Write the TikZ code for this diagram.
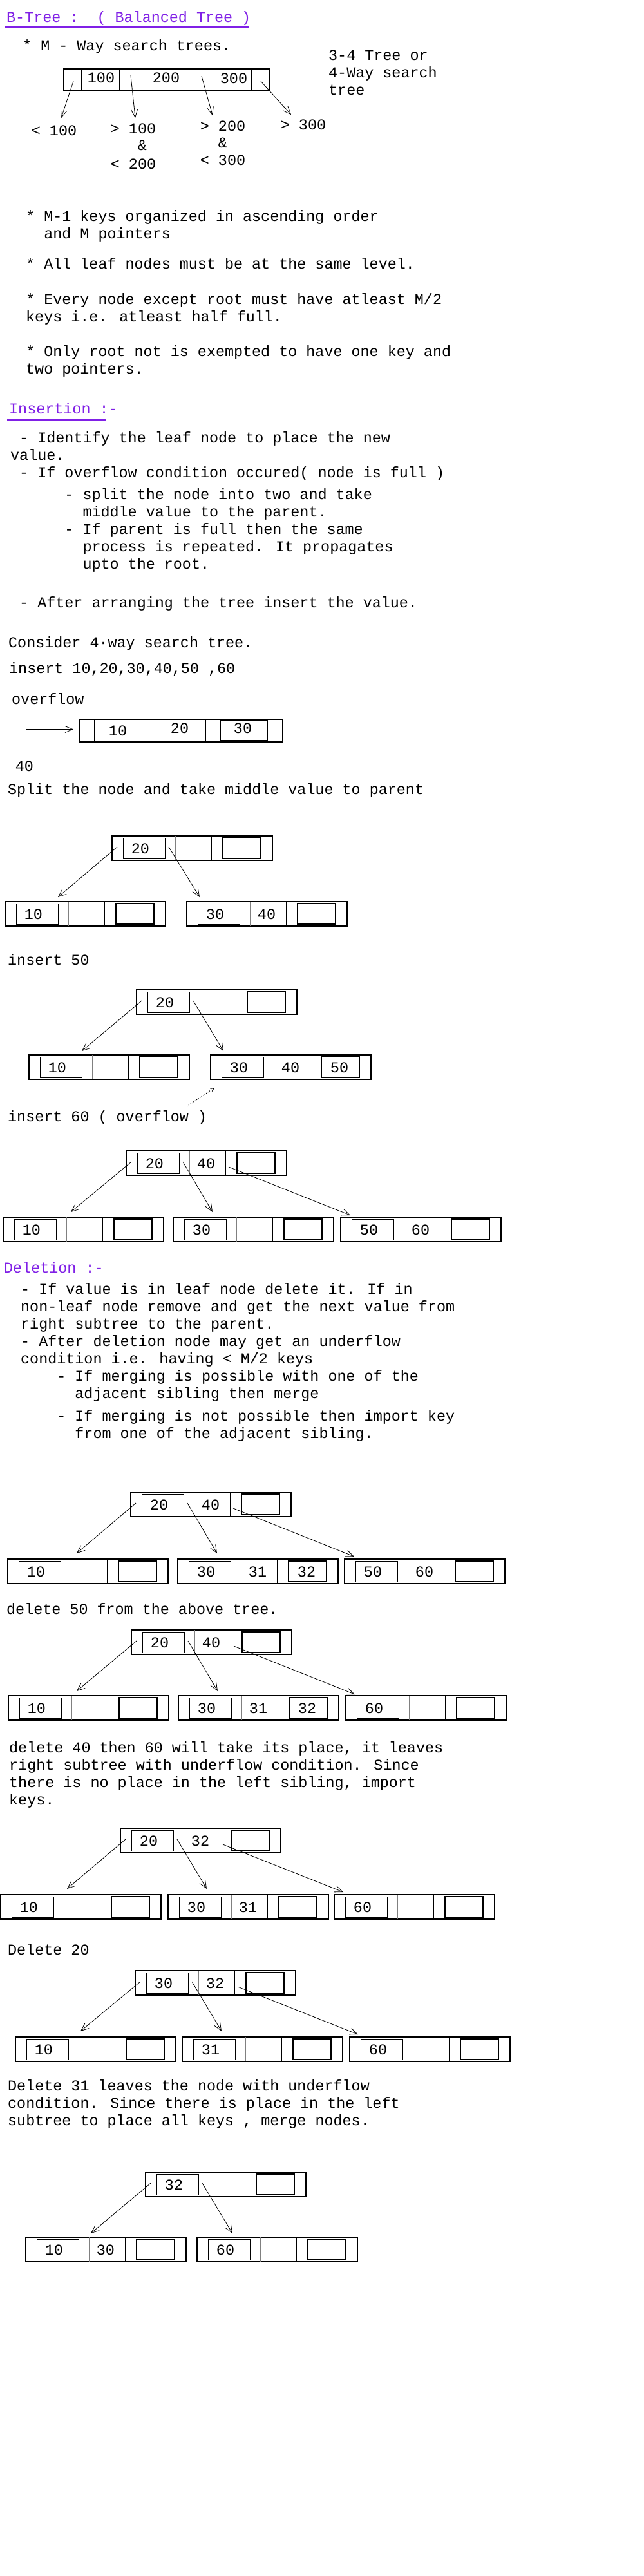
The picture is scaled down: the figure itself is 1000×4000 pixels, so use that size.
\documentclass[tikz,border=0pt]{standalone}
\usepackage{fontspec}
\setmainfont{Liberation Mono}
\usetikzlibrary{arrows.meta}
\definecolor{headcol}{RGB}{128,32,230}
\newlength\chw
\setlength\chw{14.04pt}
\newcommand{\ind}[1]{\hspace*{#1\chw}}
\tikzset{
  txt/.style={anchor=base west, inner sep=0pt, align=left,
    font=\fontsize{23.4}{27}\selectfont},
  head/.style={txt, text=headcol},
  bkey/.style={anchor=base, inner sep=0pt, font=\fontsize{23.4}{27}\selectfont},
  bframe/.style={draw, line width=1.8pt, inner sep=0pt, outer sep=0pt,
    minimum width=249pt, minimum height=38pt, anchor=north west},
  bcell/.style={line width=1pt},
  bhair/.style={line width=0.5pt, gray},
  ptr/.style={line width=0.8pt, -{Straight Barb[length=12pt,width=10pt]}},
  uline/.style={headcol, line width=1.6pt},
}
% one b-tree node: name, top left corner, three keys
\newcommand{\bnode}[5]{
  \begin{scope}[shift={(#2)}]
    \node[bframe] (#1) at (0,0) {};
    \draw[bcell] (17,3) rectangle (82,35);
    \draw[bhair] (98,0) -- (98,38);
    \draw[bcell] (154,0) -- (154,38);
    \draw[bcell, line width=1.8pt] (172,3) rectangle (231,35);
    \node[bkey] at (44,27) {#3};
    \node[bkey] at (124,27) {#4};
    \node[bkey] at (200,27) {#5};
    \coordinate (#1-p0) at (8,17);
    \coordinate (#1-p1) at (88,17);
    \coordinate (#1-p2) at (159,25);
  \end{scope}
}
\begin{document}
\begin{tikzpicture}[x=1pt,y=-1pt]
\useasboundingbox (0,0) rectangle (1000,4000);

% title and the m-way tree (multi-line texts sit on their last line)
\node[head] (title) at (10,34) {B-Tree :\ \ ( Balanced Tree )};
\draw[uline] ([xshift=-3pt,yshift=-8pt]title.base west) -- ([xshift=-4pt,yshift=-8pt]title.base east);
\node[txt] (mwaytxt) at (35,78) {* M - Way search trees.};
\node[txt] (note) at (510,147) {3-4 Tree or\\4-Way search\\tree};

\node[draw, line width=1.8pt, inner sep=0pt, outer sep=0pt, minimum width=320pt,
  minimum height=34pt, anchor=north west] (mway) at (99,107) {};
\foreach \x in {126,185,223,296,335,390}
  \draw[bcell] (\x,107) -- (\x,141);
\node[bkey] at (157,128) {100};
\node[bkey] at (258,128) {200};
\node[bkey] at (363,129) {300};
\coordinate (mway-p0) at (114,126);
\coordinate (mway-p1) at (203,117);
\coordinate (mway-p2) at (313,118);
\coordinate (mway-p3) at (405,126);

\node[bkey] (lt100) at (84,210) {< 100};
\node[bkey] (gt100) at (207,207) {> 100};
\node[bkey] (amp1) at (221,233) {\&};
\node[bkey] (lt200) at (207,262) {< 200};
\node[bkey] (gt200) at (346,203) {> 200};
\node[bkey] (amp2) at (346,229) {\&};
\node[bkey] (lt300) at (346,256) {< 300};
\node[bkey] (gt300) at (471,201) {> 300};
\draw[ptr] (mway-p0) -- ([shift={(11,-11)}]lt100.north);
\draw[ptr] (mway-p1) -- ([shift={(3,-8)}]gt100.north);
\draw[ptr] (mway-p2) -- ([shift={(-16,-8)}]gt200.north);
\draw[ptr] (mway-p3) -- ([shift={(-19,-7)}]gt300.north);

\node[txt] (rule1) at (40,370) {* M-1 keys organized in ascending order\\\ind{2}and M pointers};
\node[txt] (rule2) at (40,417) {* All leaf nodes must be at the same level.};
\node[txt] (rule3) at (40,499) {* Every node except root must have atleast M/2\\keys i.e. atleast half full.};
\node[txt] (rule4) at (40,580) {* Only root not is exempted to have one key and\\two pointers.};

% insertion
\node[head] (ins) at (14,642) {Insertion :-};
\draw[uline] ([xshift=-3pt,yshift=-10pt]ins.base west) -- ([xshift=-19pt,yshift=-10pt]ins.base east);
\node[txt] (insA) at (16,741) {\ind{1}- Identify the leaf node to place the new\\value.\\\ind{1}- If overflow condition occured( node is full )};
\node[txt] (insB) at (16,883) {\ind{6}- split the node into two and take\\\ind{8}middle value to the parent.\\\ind{6}- If parent is full then the same\\\ind{8}process is repeated. It propagates\\\ind{8}upto the root.};
\node[txt] (insC) at (16,943) {\ind{1}- After arranging the tree insert the value.};

\node[txt] (consider) at (13,1005) {Consider 4·way search tree.};
\node[txt] (insert) at (14,1045) {insert 10,20,30,40,50 ,60};
\node[txt] (ovf) at (18,1093) {overflow};

\node[draw, line width=1.8pt, inner sep=0pt, outer sep=0pt, minimum width=316pt,
  minimum height=35pt, anchor=north west] (full) at (123,1117) {};
\foreach \x in {146,228,248,319,342}
  \draw[bcell] (\x,1117) -- (\x,1152);
\draw[bcell, line width=1.8pt] (342,1119) rectangle (415,1150);
\node[bkey] at (183,1142) {10};
\node[bkey] at (279,1138) {20};
\node[bkey] at (377,1138) {30};
\node[bkey] (new40) at (38,1197) {40};
\draw[ptr] ([xshift=2pt,yshift=12pt]new40.north) |- ([xshift=-9pt,yshift=2pt]full.west);

\node[txt] (split) at (12,1233) {Split the node and take middle value to parent};
\bnode{r1}{174,1298}{20}{}{}
\bnode{c1}{8,1400}{10}{}{}
\bnode{c2}{290,1400}{30}{40}{}
\draw[ptr] (r1-p0) -- ([shift={(82,-7)}]c1.north west);
\draw[ptr] (r1-p1) -- ([shift={(20,-7)}]c2.north west);

\node[txt] (ins50) at (12,1498) {insert 50};
\bnode{r2}{212,1537}{20}{}{}
\bnode{c3}{45,1638}{10}{}{}
\bnode{c4}{327,1638}{30}{40}{50}
\draw[ptr] (r2-p0) -- ([shift={(82,-6)}]c3.north west);
\draw[ptr] (r2-p1) -- ([shift={(20,-6)}]c4.north west);

\node[txt] (ins60) at (12,1741) {insert 60 ( overflow )};
\draw[dotted, line width=1pt, -{Straight Barb[length=5pt,width=5pt]}]
  ([shift={(-31,-6)}]ins60.north east) -- ([shift={(6,13)}]c4.south west);
\bnode{r3}{196,1787}{20}{40}{}
\bnode{c5}{5,1890}{10}{}{}
\bnode{c6}{269,1890}{30}{}{}
\bnode{c7}{529,1890}{50}{60}{}
\draw[ptr] (r3-p0) -- ([shift={(105,-8)}]c5.north west);
\draw[ptr] (r3-p1) -- ([shift={(61,-8)}]c6.north west);
\draw[ptr] (r3-p2) -- ([shift={(15,-3)}]c7.north west);

% deletion
\node[head] (del) at (6,1976) {Deletion :-};
\node[txt] (delA) at (32,2171) {- If value is in leaf node delete it. If in\\non-leaf node remove and get the next value from\\right subtree to the parent.\\- After deletion node may get an underflow\\condition i.e. having < M/2 keys\\\ind{4}- If merging is possible with one of the\\\ind{6}adjacent sibling then merge};
\node[txt] (delB) at (32,2233) {\ind{4}- If merging is not possible then import key\\\ind{6}from one of the adjacent sibling.};

\bnode{r4}{203,2317}{20}{40}{}
\bnode{c8}{12,2421}{10}{}{}
\bnode{c9}{276,2421}{30}{31}{32}
\bnode{c10}{535,2421}{50}{60}{}
\draw[ptr] (r4-p0) -- ([shift={(107,-9)}]c8.north west);
\draw[ptr] (r4-p1) -- ([shift={(61,-9)}]c9.north west);
\draw[ptr] (r4-p2) -- ([shift={(15,-4)}]c10.north west);

\node[txt] (del50) at (10,2506) {delete 50 from the above tree.};
\bnode{r5}{204,2531}{20}{40}{}
\bnode{c11}{13,2633}{10}{}{}
\bnode{c12}{277,2633}{30}{31}{32}
\bnode{c13}{537,2633}{60}{}{}
\draw[ptr] (r5-p0) -- ([shift={(106,-7)}]c11.north west);
\draw[ptr] (r5-p1) -- ([shift={(61,-7)}]c12.north west);
\draw[ptr] (r5-p2) -- ([shift={(14,-2)}]c13.north west);

\node[txt] (del40) at (14,2802) {delete 40 then 60 will take its place, it leaves\\right subtree with underflow condition. Since\\there is no place in the left sibling, import\\keys.};
\bnode{r6}{187,2839}{20}{32}{}
\bnode{c14}{1,2942}{10}{}{}
\bnode{c15}{261,2942}{30}{31}{}
\bnode{c16}{519,2942}{60}{}{}
\draw[ptr] (r6-p0) -- ([shift={(103,-9)}]c14.north west);
\draw[ptr] (r6-p1) -- ([shift={(60,-9)}]c15.north west);
\draw[ptr] (r6-p2) -- ([shift={(14,-4)}]c16.north west);

\node[txt] (del20) at (12,3035) {Delete 20};
\bnode{r7}{210,3060}{30}{32}{}
\bnode{c17}{24,3163}{10}{}{}
\bnode{c18}{283,3163}{31}{}{}
\bnode{c19}{543,3163}{60}{}{}
\draw[ptr] (r7-p0) -- ([shift={(101,-9)}]c17.north west);
\draw[ptr] (r7-p1) -- ([shift={(61,-9)}]c18.north west);
\draw[ptr] (r7-p2) -- ([shift={(13,-4)}]c19.north west);

\node[txt] (del31) at (12,3300) {Delete 31 leaves the node with underflow\\condition. Since there is place in the left\\subtree to place all keys , merge nodes.};
\bnode{r8}{226,3373}{32}{}{}
\bnode{c20}{40,3474}{10}{30}{}
\bnode{c21}{306,3474}{60}{}{}
\draw[ptr] (r8-p0) -- ([shift={(101,-6)}]c20.north west);
\draw[ptr] (r8-p1) -- ([shift={(55,-6)}]c21.north west);
\end{tikzpicture}
\end{document}
